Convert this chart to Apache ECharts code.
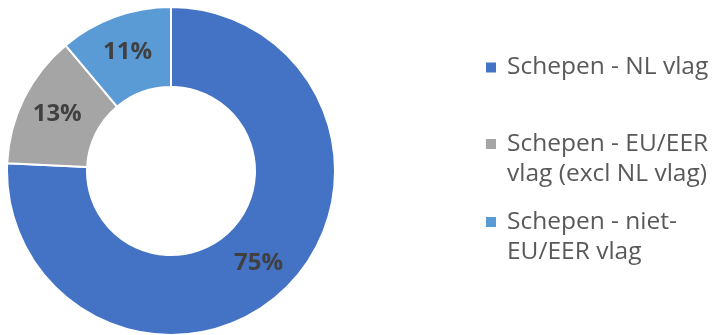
<!DOCTYPE html>
<html>
<head>
<meta charset="utf-8">
<script src="https://cdn.jsdelivr.net/npm/echarts@6/dist/echarts.min.js"></script>
<style>
  html, body { margin: 0; padding: 0; background: #fff; }
  #chart { width: 719px; height: 335px; }
</style>
</head>
<body>
<div id="chart"></div>
<script>
// Share of ships by flag
const categories = ['Schepen - NL vlag', 'Schepen - EU/EER vlag (excl NL vlag)', 'Schepen - niet-EU/EER vlag'];
const legendLabels = ['Schepen - NL vlag', 'Schepen - EU/EER\nvlag (excl NL vlag)', 'Schepen - niet-\nEU/EER vlag'];
const shares = [75, 13, 11];
const colors = ['#4472C4', '#A5A5A5', '#5B9BD5'];

const fontFamily = '"Open Sans", Lato, sans-serif';
const lineH = 30;

// One legend block per entry so each can sit in its own slot.
// Two-line labels get a blank leading line so the marker lines up with the first line.
function makeLegend(i, top) {
  const twoLines = legendLabels[i].indexOf('\n') >= 0;
  return {
    show: true,
    orient: 'vertical',
    left: 484,
    top: top,
    padding: 0,
    itemWidth: 12,
    itemHeight: 12,
    icon: 'rect',
    selectedMode: false,
    data: [categories[i]],
    formatter: () => (twoLines ? '\u00a0\n' : '') + legendLabels[i],
    textStyle: {
      fontFamily: fontFamily,
      fontSize: 24.5,
      color: '#595959',
      lineHeight: lineH,
      padding: [0, 0, 0, 5]
    }
  };
}

const chart = echarts.init(document.getElementById('chart'), null, { renderer: 'canvas' });
chart.setOption({
  animation: false,
  color: colors,
  legend: [makeLegend(0, 67.5 - lineH / 2), makeLegend(1, 144 - lineH * 1.5), makeLegend(2, 222 - lineH * 1.5)],
  series: [{
    type: 'pie',
    center: [171, 171],
    radius: [84, 164],
    startAngle: 90,
    clockwise: true,
    avoidLabelOverlap: false,
    itemStyle: { borderColor: '#ffffff', borderWidth: 2 },
    label: {
      show: true,
      position: 'inside',
      formatter: p => p.value + '%',
      fontFamily: fontFamily,
      fontWeight: 'bold',
      fontSize: 24,
      color: '#404040'
    },
    labelLine: { show: false },
    data: categories.map((name, i) => ({ name: name, value: shares[i] }))
  }]
});
</script>
</body>
</html>
